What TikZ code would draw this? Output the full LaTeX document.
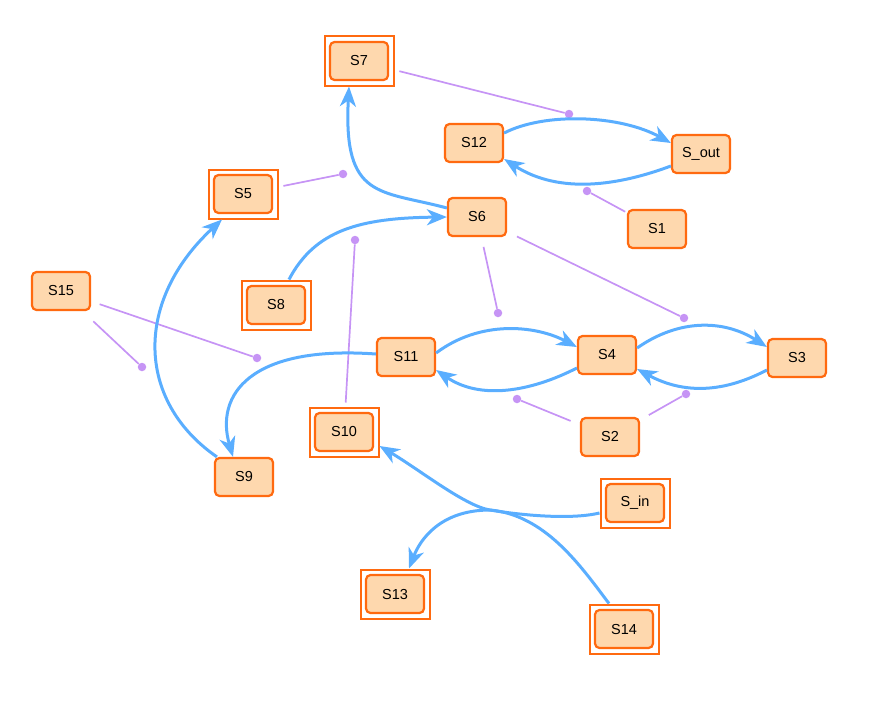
\documentclass[tikz,border=0pt]{standalone}
\usepackage{fontspec}
\setmainfont{Liberation Sans}
\usetikzlibrary{arrows.meta,calc}
\definecolor{peach}{RGB}{254,216,174}
\definecolor{orng}{RGB}{255,106,16}
\definecolor{edgeblue}{RGB}{90,174,255}
\definecolor{assocpurple}{RGB}{198,148,245}
\tikzset{
  st/.style={rectangle, rounded corners=4.5pt, draw=orng, fill=peach, line width=2.2pt,
    minimum width=58pt, minimum height=38pt, inner sep=0pt, font=\fontsize{14.5}{16}\selectfont},
  frm/.style={rectangle, draw=orng, fill=white, line width=2pt,
    minimum width=69pt, minimum height=49pt, inner sep=0pt},
  trans/.style={draw=edgeblue, line width=3pt, -{Stealth[length=20pt,width=16pt,inset=6pt]}},
  assoc/.style={draw=assocpurple, line width=1.7pt},
  dot/.style={circle, fill=assocpurple, inner sep=0pt, minimum size=8.5pt},
}
\begin{document}
\begin{tikzpicture}[x=1pt,y=-1pt]
\useasboundingbox (0,0) rectangle (874,701);
% single nodes
\node[st] (S12) at (474,143) {S12};
\node[st] (Sout) at (701,154) {S\_out};
\node[st] (S1) at (657,229) {S1};
\node[st] (S6) at (477,217) {S6};
\node[st] (S15) at (61,291) {S15};
\node[st] (S11) at (406,357) {S11};
\node[st] (S4) at (607,355) {S4};
\node[st] (S3) at (797,358) {S3};
\node[st] (S2) at (610,437) {S2};
\node[st] (S9) at (244,477) {S9};
% double nodes
\node[frm] (S7) at (359,61) {};   \node[st] (S7i) at (S7) {S7};
\node[frm] (S5) at (243,194) {};  \node[st] (S5i) at (S5) {S5};
\node[frm] (S8) at (276,305) {};  \node[st] (S8i) at (S8) {S8};
\node[frm] (S10) at (344,432) {}; \node[st] (S10i) at (S10) {S10};
\node[frm] (Sin) at (635,503) {}; \node[st] (Sini) at (Sin) {S\_in};
\node[frm] (S13) at (395,594) {}; \node[st] (S13i) at (S13) {S13};
\node[frm] (S14) at (624,629) {}; \node[st] (S14i) at (S14) {S14};
% association dots
\node[dot] (d1) at (569,114) {};
\node[dot] (d2) at (587,191) {};
\node[dot] (d3) at (343,174) {};
\node[dot] (d4) at (355,240) {};
\node[dot] (d5) at (498,313) {};
\node[dot] (d6) at (684,318) {};
\node[dot] (d7) at (142,367) {};
\node[dot] (d8) at (257,358) {};
\node[dot] (d9) at (517,399) {};
\node[dot] (d10) at (686,394) {};
% association lines
\draw[assoc, shorten <=5pt] (S7) -- (d1);
\draw[assoc, shorten <=2pt] (S1) -- (d2);
\draw[assoc, shorten <=5pt] (S5) -- (d3);
\draw[assoc, shorten <=4pt] (S10) -- (d4);
\draw[assoc, shorten <=10pt] (S6) -- (d5);
\draw[assoc, shorten <=11pt] (S6) -- (d6);
\draw[assoc, shorten <=15pt] (S15) -- (d7);
\draw[assoc, shorten <=9pt] (S15) -- (d8);
\draw[assoc, shorten <=10pt] (S2) -- (d9);
\draw[assoc, shorten <=10pt] (S2) -- (d10);
% transitions
\draw[trans] ([yshift=9pt]S6.west) .. controls (380,190) and (343,200) .. ([xshift=-10pt]S7.south);
\draw[trans] ([yshift=10pt]S12.east) .. controls (545,112) and (620,115) .. ([yshift=11pt]Sout.west);
\draw[trans] ([yshift=-12pt]Sout.west) .. controls (620,185) and (560,195) .. ([yshift=-16pt]S12.east);
\draw[trans] ([xshift=13pt]S8.north) .. controls (315,230) and (360,218) .. (S6.west);
\draw[trans] ([xshift=3pt]S9.north west) .. controls (135,400) and (135,300) .. ([xshift=-21pt]S5.south);
\draw[trans] ([yshift=3pt]S11.west) .. controls (250,345) and (215,395) .. ([xshift=-11pt]S9.north);
\draw[trans] ([yshift=4pt]S11.east) .. controls (480,320) and (535,325) .. ([yshift=8pt]S4.west);
\draw[trans] ([yshift=-13pt]S4.west) .. controls (530,392) and (480,400) .. ([yshift=-13pt]S11.east);
\draw[trans] ([yshift=7pt]S4.east) .. controls (680,318) and (725,320) .. ([yshift=11pt]S3.west);
\draw[trans] ([yshift=-12pt]S3.west) .. controls (725,392) and (685,395) .. ([yshift=-14pt]S4.east);
\draw[trans] ([yshift=-10pt]Sin.west) .. controls (570,520) and (520,515) .. (490,510)
   .. controls (465,506) and (420,470) .. ([yshift=-14pt]S10.east);
\draw[trans] ([xshift=-15pt]S14.north) .. controls (580,565) and (545,515) .. (490,510)
   .. controls (440,510) and (420,540) .. ([xshift=14pt]S13.north);
\end{tikzpicture}
\end{document}
